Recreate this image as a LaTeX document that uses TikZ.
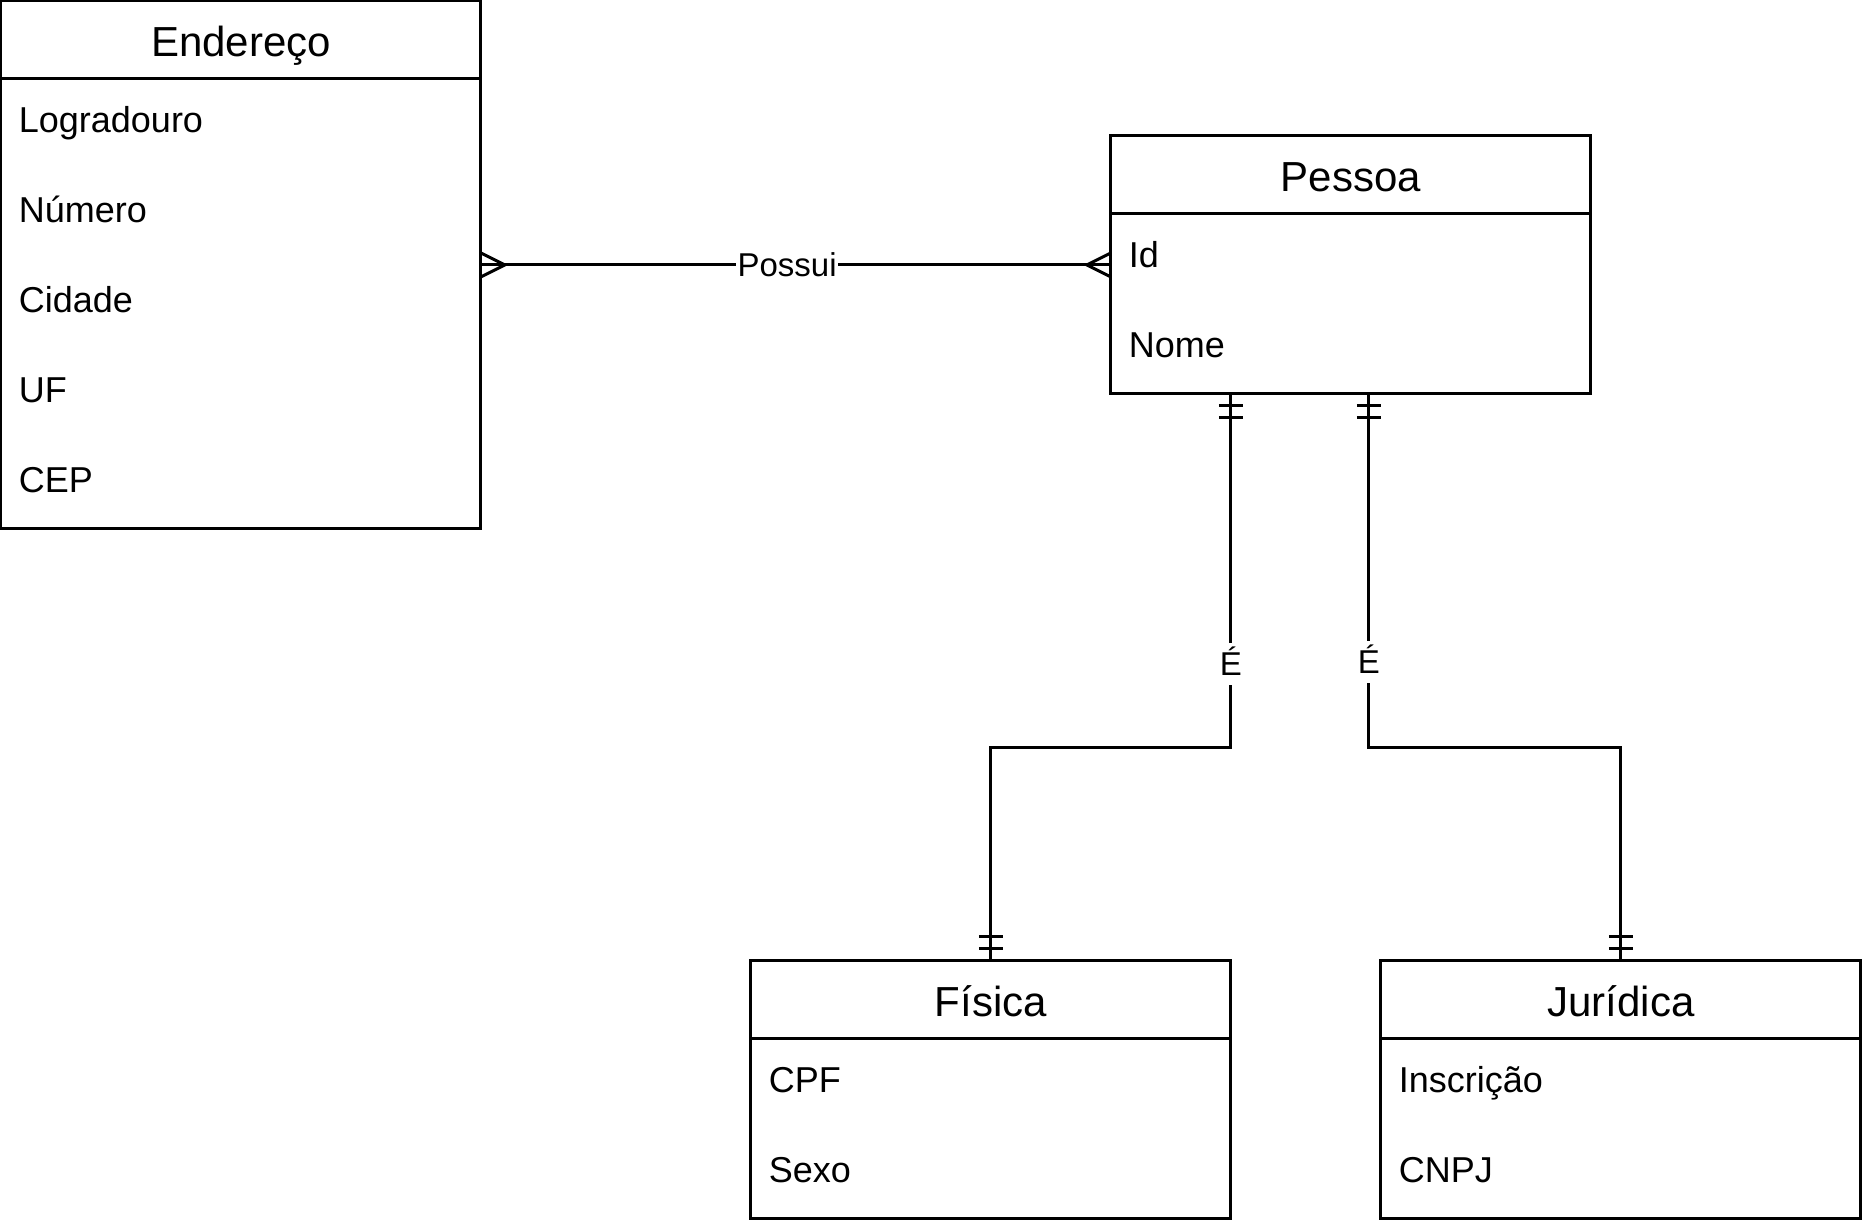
\documentclass[tikz,border=0pt]{standalone}
\usepackage{fontspec}
\setmainfont{Liberation Sans}
\usepackage{tikz}

\tikzset{
  entity/.style={draw, minimum width=160pt, inner sep=0pt, outer sep=0pt},
  enttitle/.style={anchor=base, inner sep=0pt, font=\fontsize{14}{16}\selectfont},
  attr/.style={anchor=base west, inner sep=0pt, font=\fontsize{12}{14}\selectfont},
  rellabel/.style={fill=white, inner xsep=0.5pt, inner ysep=1pt, text height=9.8pt, text depth=2.2pt,
    font=\fontsize{11}{13}\selectfont},
}

\begin{document}
\begin{tikzpicture}[x=1pt,y=-1pt,line width=1pt]
  \useasboundingbox (-0.3,-0.3) rectangle (621.7,409.7);

  \begin{scope}[shift={(0,0)}]
  \node[entity, minimum height=176pt] (endereco) at (80,88) {};
  \draw (0,26) -- (160,26);
  \node[enttitle] (endereco-title) at (80,18.5) {Endereço};
  \foreach \a [count=\i] in {Logradouro,Número,Cidade,UF,CEP} {
    \node[attr] (endereco-\i) at (5.5,{13.8+30*\i}) {\a};
  }
  \end{scope}

  \begin{scope}[shift={(370,45)}]
  \node[entity, minimum height=86pt] (pessoa) at (80,43) {};
  \draw (0,26) -- (160,26);
  \node[enttitle] (pessoa-title) at (80,18.5) {Pessoa};
  \foreach \a [count=\i] in {Id,Nome} {
    \node[attr] (pessoa-\i) at (5.5,{13.8+30*\i}) {\a};
  }
  \end{scope}

  \begin{scope}[shift={(250,320)}]
  \node[entity, minimum height=86pt] (fisica) at (80,43) {};
  \draw (0,26) -- (160,26);
  \node[enttitle] (fisica-title) at (80,18.5) {Física};
  \foreach \a [count=\i] in {CPF,Sexo} {
    \node[attr] (fisica-\i) at (5.5,{13.8+30*\i}) {\a};
  }
  \end{scope}

  \begin{scope}[shift={(460,320)}]
  \node[entity, minimum height=86pt] (juridica) at (80,43) {};
  \draw (0,26) -- (160,26);
  \node[enttitle] (juridica-title) at (80,18.5) {Jurídica};
  \foreach \a [count=\i] in {Inscrição,CNPJ} {
    \node[attr] (juridica-\i) at (5.5,{13.8+30*\i}) {\a};
  }
  \end{scope}

  % relationships
  \draw (endereco.east) -- node[rellabel, pos=0.486] {Possui} (pessoa.west);
  \draw ([xshift=40pt]pessoa.south west) -- node[rellabel, pos=0.763] {É} ++(0,118) -| (fisica.north);
  \draw ([xshift=86pt]pessoa.south west) -- node[rellabel, pos=0.758] {É} ++(0,118) -| (juridica.north);

  % crow's feet (many)
  \draw ([yshift=4pt]endereco.east) -- ++(8,4) -- ([yshift=-4pt]endereco.east);
  \draw ([yshift=4pt]pessoa.west) -- ++(-8,4) -- ([yshift=-4pt]pessoa.west);

  % mandatory one
  \foreach \d in {4,8} {
    \draw ([xshift=36pt,yshift=-\d pt]pessoa.south west) -- ++(8,0);
    \draw ([xshift=82pt,yshift=-\d pt]pessoa.south west) -- ++(8,0);
    \draw ([xshift=-4pt,yshift=\d pt]fisica.north) -- ++(8,0);
    \draw ([xshift=-4pt,yshift=\d pt]juridica.north) -- ++(8,0);
  }
\end{tikzpicture}
\end{document}
